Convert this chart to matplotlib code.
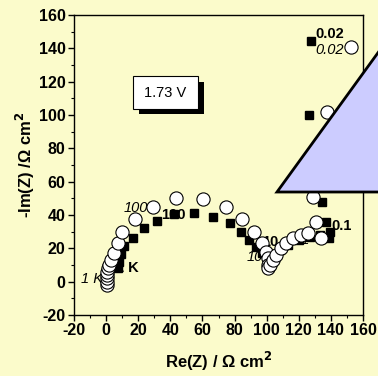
import matplotlib.pyplot as plt
from matplotlib.patches import Polygon, Rectangle
from matplotlib.ticker import MultipleLocator

plt.rcParams['font.family'] = ['Liberation Sans', 'DejaVu Sans']
plt.rcParams['axes.unicode_minus'] = False

# filled squares (bold labels)
sq_x = [7.5, 8.1, 9.2, 11.3, 16.9, 23.8, 32.0, 42.5, 55.0, 66.5, 76.9, 84.2,
        88.9, 93.5, 97.0, 100.0, 104.0, 108.0, 113.0, 120.0, 127.0, 133.0,
        139.0, 139.4, 137.0, 134.4, 126.5, 127.5]
sq_y = [8.0, 12.0, 16.6, 21.6, 26.4, 32.0, 36.5, 40.5, 41.4, 39.0, 35.4, 30.0,
        25.0, 20.6, 17.0, 15.0, 16.0, 19.0, 22.0, 25.0, 27.0, 28.0,
        26.0, 30.0, 36.0, 47.6, 100.0, 144.6]

# open circles (italic labels)
ci_x = [0.5, 0.3, 0.3, 0.5, 0.8, 1.2, 1.9, 3.3, 5.0, 7.1, 10.2, 17.9, 29.0,
        43.5, 60.2, 74.8, 84.8, 91.9, 97.3, 99.8, 100.6, 100.8, 101.0, 101.9,
        104.0, 106.0, 109.0, 112.3, 116.5, 121.6, 125.8, 134.0, 131.0, 128.8,
        137.3, 152.5]
ci_y = [-2.0, 0.0, 2.0, 4.0, 6.0, 8.0, 10.0, 13.0, 17.0, 23.0, 30.0, 37.4, 45.0,
        50.0, 49.4, 45.0, 37.4, 30.0, 23.0, 18.0, 14.0, 10.0, 8.0, 10.0,
        13.0, 16.0, 20.0, 23.4, 26.0, 28.0, 29.0, 26.0, 36.0, 50.8,
        102.0, 141.0]

bold_labels = ["0.02", "0.1", "10", "100", "1 K"]
bold_pos = [(130.5, 148.5), (140.5, 33.5), (97.0, 23.5), (34.0, 40.0), (6.0, 8.5)]
ital_labels = ["0.02", "0.1", "10", "100", "1 K"]
ital_pos = [(130.5, 139.0), (114.0, 25.0), (87.5, 15.0), (11.0, 44.0), (-15.6, 1.5)]

W, H = 378, 376
bg = '#fbfbcb'
fig = plt.figure(figsize=(W / 100, H / 100), dpi=100, facecolor=bg)
ax = fig.add_axes([74 / W, 1 - 315 / H, (363 - 74) / W, (315 - 15) / H])
ax.set_facecolor(bg)


def fx(px):
    return px / W


def fy(py):
    return 1 - py / H


for t, (x, y) in zip(bold_labels, bold_pos):
    ax.text(x, y, t, fontsize=10.5, fontweight='bold', ha='left', va='center', zorder=1)
for t, (x, y) in zip(ital_labels, ital_pos):
    ax.text(x, y, t, fontsize=10.5, style='italic', ha='left', va='center', zorder=1)

ax.plot(sq_x, sq_y, 's', color='black', markersize=5.5, zorder=3, clip_on=False)
ax.plot(ci_x, ci_y, 'o', mfc='white', mec='black', mew=0.8, markersize=9.5,
        zorder=4, clip_on=False)

ax.set_xlim(-20, 160)
ax.set_ylim(-20, 160)
ax.xaxis.set_major_locator(MultipleLocator(20))
ax.yaxis.set_major_locator(MultipleLocator(20))
ax.xaxis.set_minor_locator(MultipleLocator(10))
ax.yaxis.set_minor_locator(MultipleLocator(10))
ax.tick_params(which='major', direction='out', length=4, width=1,
               labelsize=11.5, pad=2)
ax.tick_params(which='minor', direction='out', length=2, width=0.8)
for lab in ax.get_xticklabels() + ax.get_yticklabels():
    lab.set_fontweight('bold')
for s in ax.spines.values():
    s.set_linewidth(1)

ax.set_xlabel('Re(Z) / Ω cm$^\\mathbf{2}$', fontsize=12, fontweight='bold', labelpad=8)
ax.set_ylabel('-Im(Z) /Ω cm$^\\mathbf{2}$', fontsize=12, fontweight='bold', labelpad=1)

# "1.73 V" box with shadow
fig.patches.append(Rectangle((fx(139), fy(114)), fx(204) - fx(139), fy(82) - fy(114),
                             transform=fig.transFigure, facecolor='black',
                             edgecolor='none', zorder=5))
fig.patches.append(Rectangle((fx(133), fy(109)), fx(198) - fx(133), fy(76) - fy(109),
                             transform=fig.transFigure, facecolor='white',
                             edgecolor='black', lw=0.8, zorder=6))
fig.text(fx(165.5), fy(93), '1.73 V', fontsize=10.5, ha='center', va='center', zorder=7)

# callout triangle
fig.patches.append(Polygon([(fx(277), fy(192)), (fx(393), fy(32)), (fx(440), fy(192))],
                           closed=True, transform=fig.transFigure, facecolor='#ccccff',
                           edgecolor='black', lw=2, zorder=8))

fig.savefig('out.png', dpi=100, facecolor=bg)
